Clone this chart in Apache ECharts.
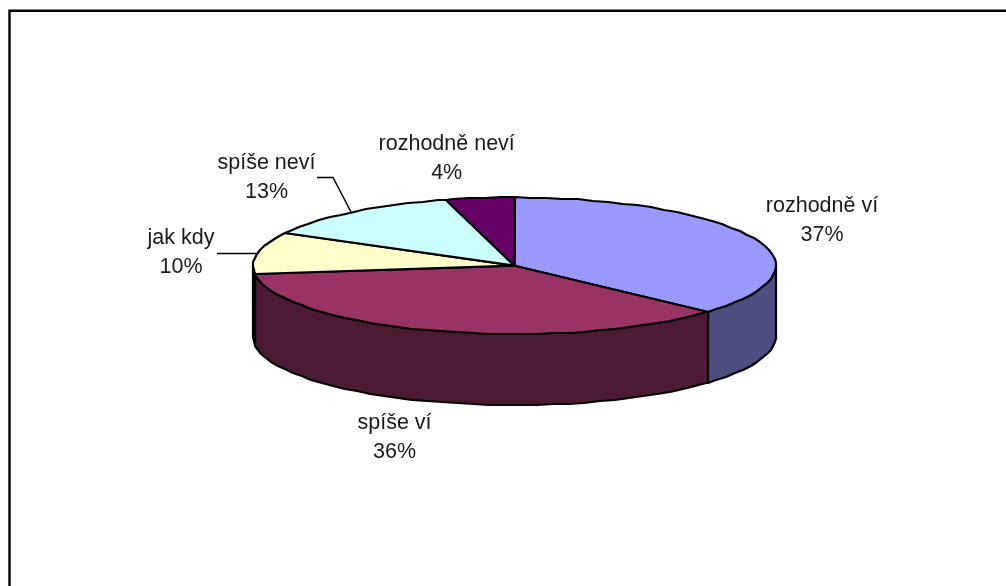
<!DOCTYPE html>
<html>
<head>
<meta charset="utf-8">
<style>html,body{margin:0;padding:0;background:#fff}#c{width:1006px;height:586px}</style>
<script src="https://cdn.jsdelivr.net/npm/echarts@6/dist/echarts.min.js"></script>
</head>
<body>
<div id="c"></div>
<script>
// Data
var categories = ['rozhodně ví', 'spíše ví', 'jak kdy', 'spíše neví', 'rozhodně neví'];
var shares = [36.7, 36.3, 10, 12.8, 4.2];
var topColors = ['#9999FF', '#993366', '#FFFFCC', '#CCFFFF', '#660066'];
var wallColors = ['#4D4D80', '#4D1A33', '#80806A', '#6A8080', '#330033'];

// Layout (pie projection, label anchors, leader lines)
var pie = {cx: 514.5, cy: 265.7, rx: 261.5, ry: 68.3, depth: 71, step: 3.5};
var labelAnchors = [[822, 220.5], [394.5, 437.5], [181, 252.5], [266.5, 177.5], [446.7, 158.5]];
var leaders = [null, null, [[217, 253.5], [256, 253.5]], [[317, 177.5], [333, 177.5], [351, 212]], null];

var total = shares.reduce(function (a, b) { return a + b; }, 0);
var cum = [0];
shares.forEach(function (v, i) { cum.push(cum[i] + v); });
function angle(v) { return v / total * 360; }
function pt(deg, dy) {
  var r = deg * Math.PI / 180;
  return [Math.round(pie.cx + pie.rx * Math.sin(r)), Math.round(pie.cy - pie.ry * Math.cos(r) + (dy || 0))];
}
function arc(a0, a1, dy) {
  var pts = [], a = a0;
  while (a < a1) { pts.push(pt(a, dy)); a += pie.step - (a % pie.step); }
  pts.push(pt(a1, dy));
  return pts;
}
var seriesData = shares.map(function (v, i) { return {name: categories[i], value: [i, v]}; });
var edge = {stroke: '#000', lineWidth: 2.2, lineJoin: 'round'};

function renderWall(params, api) {
  var i = api.value(0);
  var a0 = Math.max(angle(cum[i]), 90), a1 = Math.min(angle(cum[i + 1]), 270);
  if (a1 <= a0) return null;
  var pts = arc(a0, a1, 0).concat(arc(a0, a1, pie.depth).reverse());
  return {type: 'polygon', shape: {points: pts},
    style: Object.assign({fill: wallColors[i]}, edge)};
}
function renderTop(params, api) {
  var i = api.value(0);
  var pts = [[pie.cx, pie.cy]].concat(arc(angle(cum[i]), angle(cum[i + 1]), 0));
  return {type: 'polygon', shape: {points: pts},
    style: Object.assign({fill: topColors[i]}, edge)};
}
function renderLabel(params, api) {
  var i = api.value(0);
  var kids = [{
    type: 'text', x: labelAnchors[i][0], y: labelAnchors[i][1],
    style: {
      text: categories[i] + '\n' + Math.round(api.value(1) / total * 100) + '%',
      fontFamily: '"Liberation Sans", Arial, sans-serif', fontSize: 21.5, lineHeight: 29,
      fill: '#1a1a1a', align: 'center', verticalAlign: 'middle'
    }
  }];
  if (leaders[i]) {
    kids.push({type: 'polyline', shape: {points: leaders[i]},
      style: {stroke: '#000', lineWidth: 1.5, fill: 'none'}});
  }
  return {type: 'group', children: kids};
}

var chart = echarts.init(document.getElementById('c'));
chart.setOption({
  animation: false,
  backgroundColor: '#fff',
  graphic: [{
    type: 'rect', silent: true, z: 0,
    shape: {x: 9.5, y: 10.7, width: 1200, height: 800},
    style: {fill: 'none', stroke: '#000', lineWidth: 2.4}
  }],
  series: [
    {type: 'custom', coordinateSystem: 'none', z: 2, renderItem: renderWall, data: seriesData, silent: true},
    {type: 'custom', coordinateSystem: 'none', z: 3, renderItem: renderTop, data: seriesData, silent: true},
    {type: 'custom', coordinateSystem: 'none', z: 4, renderItem: renderLabel, data: seriesData, silent: true}
  ]
});
</script>
</body>
</html>
